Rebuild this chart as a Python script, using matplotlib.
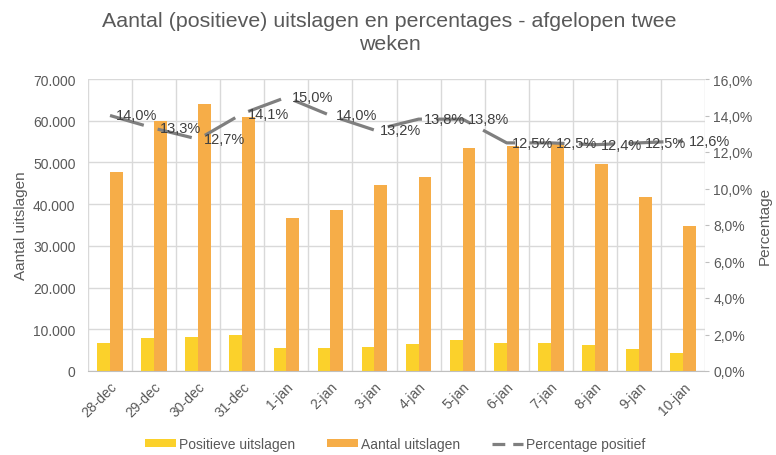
import numpy as np
import matplotlib
matplotlib.use("Agg")
import matplotlib.pyplot as plt
from matplotlib.lines import Line2D
from matplotlib.ticker import FuncFormatter

# data
dates = ["28-dec", "29-dec", "30-dec", "31-dec", "1-jan", "2-jan", "3-jan",
         "4-jan", "5-jan", "6-jan", "7-jan", "8-jan", "9-jan", "10-jan"]
positief = [6650, 8000, 8150, 8550, 5450, 5400, 5850,
            6400, 7450, 6800, 6800, 6200, 5200, 4350]
aantal = [47600, 60000, 64000, 60800, 36700, 38500, 44500,
          46600, 53500, 54000, 54400, 49600, 41800, 34700]
percentage = [14.0, 13.3, 12.7, 14.1, 15.0, 14.0, 13.2,
              13.8, 13.8, 12.5, 12.5, 12.4, 12.5, 12.6]

YELLOW = "#FBD12B"
ORANGE = "#F6AD48"
LINE = "#7F7F7F"
GRID = "#D9D9D9"
TXT = "#595959"

plt.rcParams["font.family"] = ["Liberation Sans", "DejaVu Sans"]


def nl_thousands(v, pos):
    return f"{int(round(v)):,}".replace(",", ".")


def nl_pct(v, pos):
    return f"{v:.1f}%".replace(".", ",")


def main():
    W, H = 776, 456
    fig = plt.figure(figsize=(W / 100, H / 100), dpi=100)
    ax = fig.add_axes([88 / W, 1 - 372 / H, 617 / W, 292 / H])
    x = np.arange(len(dates))
    w = 0.29

    ax.bar(x - w / 2, positief, w, color=YELLOW, label="Positieve uitslagen", zorder=2)
    ax.bar(x + w / 2, aantal, w, color=ORANGE, label="Aantal uitslagen", zorder=2)

    ax.set_xlim(-0.5, len(dates) - 0.5)
    ax.set_ylim(0, 70000)
    ax.set_yticks(np.arange(0, 70001, 10000))
    ax.yaxis.set_major_formatter(FuncFormatter(nl_thousands))
    ax.set_xticks(x)
    ax.set_xticklabels(dates, rotation=45, ha="right", rotation_mode="anchor")
    ax.set_xticks(np.arange(-0.5, len(dates), 1), minor=True)
    ax.grid(axis="y", color=GRID, lw=1, zorder=0)
    ax.grid(axis="x", which="minor", color=GRID, lw=1, zorder=0)
    ax.tick_params(axis="both", which="both", length=0, labelsize=10, labelcolor=TXT)
    ax.tick_params(axis="y", pad=9)
    ax.tick_params(axis="x", pad=6)
    for s in ["top", "right", "left"]:
        ax.spines[s].set_visible(False)
    ax.spines["bottom"].set_color("#BFBFBF")

    ax2 = ax.twinx()
    ax2.plot(x, percentage, color=LINE, lw=2.3, linestyle=(0, (11, 4.5)), zorder=3)
    ax2.set_ylim(0, 16)
    ax2.set_yticks(np.arange(0, 16.1, 2))
    ax2.yaxis.set_major_formatter(FuncFormatter(nl_pct))
    ax2.tick_params(axis="y", length=3, color="#BFBFBF", labelsize=10, labelcolor=TXT, pad=3)
    for s in ["top", "right", "left", "bottom"]:
        ax2.spines[s].set_visible(False)
    for xi, p in zip(x, percentage):
        ax2.annotate(nl_pct(p, None), (xi, p), xytext=(4, 0), textcoords="offset points",
                     ha="left", va="center", fontsize=10.5, color="#404040")

    fig.text(21 / W, 1 - 226 / H, "Aantal uitslagen", rotation=90, ha="center",
             va="center", fontsize=11, color=TXT)
    fig.text(765 / W, 1 - 226 / H, "Percentage", rotation=90, ha="center",
             va="center", fontsize=11, color=TXT)

    fig.suptitle("Aantal (positieve) uitslagen en percentages - afgelopen twee\nweken",
                 x=0.502, y=1 - 12 / H, va="top", fontsize=15.4, color=TXT,
                 linespacing=1.3)

    h1, l1 = ax.get_legend_handles_labels()
    line_handle = Line2D([], [], color=LINE, lw=2.3, linestyle=(0, (4, 2.5)))
    fig.legend(h1 + [line_handle], l1 + ["Percentage positief"], loc="center",
               bbox_to_anchor=(395 / W, 1 - 445 / H),
               ncol=3, frameon=False, fontsize=10, labelcolor=TXT,
               handlelength=2.25, handleheight=0.5, columnspacing=2.3,
               handletextpad=0.2)

    fig.savefig("out.png", dpi=100)


if __name__ == "__main__":
    main()
